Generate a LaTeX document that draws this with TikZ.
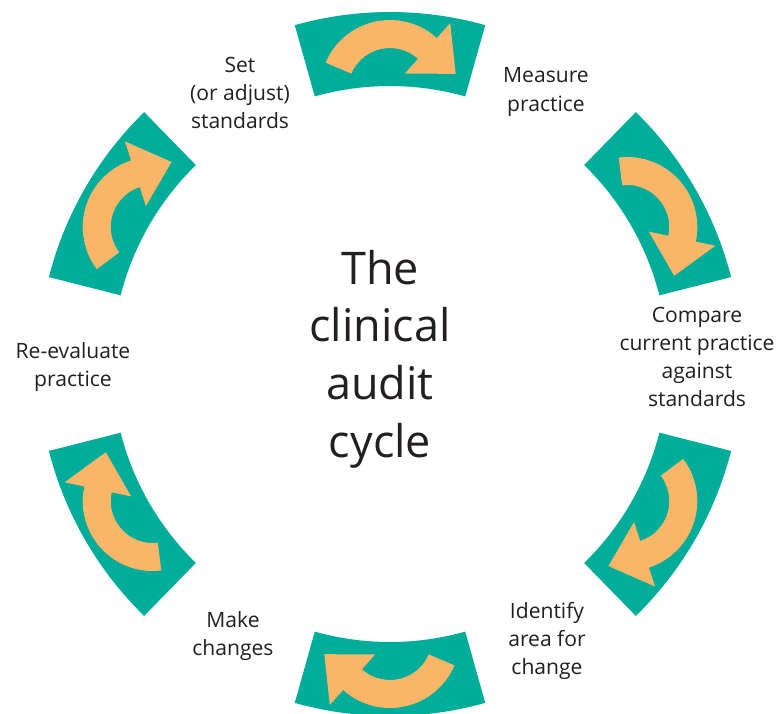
\documentclass[tikz,border=0pt]{standalone}
\usepackage{fontspec}
\setmainfont{Open Sans}
\definecolor{auditteal}{RGB}{0,173,155}
\definecolor{auditorange}{RGB}{249,182,104}
\definecolor{audittext}{RGB}{35,31,32}

\begin{document}
\begin{tikzpicture}[
    sector/.style={fill=auditteal},
    bend arrow/.style={fill=auditorange},
    stage label/.style={align=center, text=audittext, font=\fontsize{15}{20}\selectfont},
    cycle title/.style={align=center, text=audittext, font=\fontsize{32}{41}\selectfont}
  ]
        \useasboundingbox (-9.75,-8.725) rectangle (9.775,9.1);
        \begin{scope}
            \clip (-9.75,-8.725) rectangle (9.775,9.1);
            \foreach \a in {90,30,-30,-90,-150,150} {
                \fill[sector] ({\a-15.7}:8.8) arc[start angle=\a-15.7, end angle=\a+15.7, radius=8.8]
                    -- ({\a+15.7}:6.95) arc[start angle=\a+15.7, end angle=\a-15.7, radius=6.95] -- cycle;
                \begin{scope}[rotate=\a-90, shift={(0,6.85)}]
                    \fill[bend arrow] (157:1.75) arc[start angle=157, end angle=48, radius=1.75]
                        -- (48:2.25) -- (1.643,0.405) -- (48:0.55) -- (48:1.05)
                        arc[start angle=48, end angle=157, radius=1.05] -- cycle;
                \end{scope}
            }
        \end{scope}

        \node[cycle title] (title) at (-0.25,0.125) {The\\clinical\\audit\\cycle};
        \node[stage label] (set) at (-3.75,6.775) {Set\\(or adjust)\\standards};
        \node[stage label] (measure) at (3.9,6.8) {Measure\\practice};
        \node[stage label] (compare) at (7.675,0.175) {Compare\\current practice\\against\\standards};
        \node[stage label] (identify) at (3.925,-6.925) {Identify\\area for\\change};
        \node[stage label] (make) at (-3.925,-6.8) {Make\\changes};
        \node[stage label] (reeval) at (-7.925,-0.075) {Re-evaluate\\practice};
\end{tikzpicture}
\end{document}
